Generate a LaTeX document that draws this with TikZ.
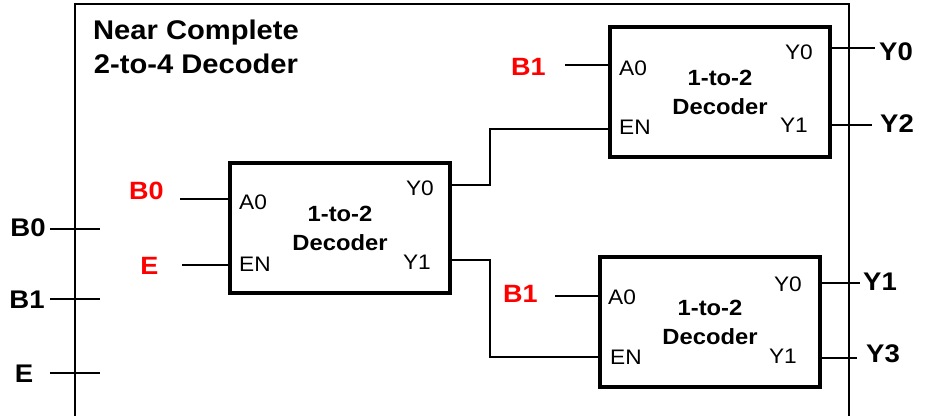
\documentclass[tikz,border=0pt]{standalone}
\usepackage{fontspec}
\setmainfont{Liberation Sans}[FakeStretch=1.08]
\usetikzlibrary{positioning,calc}

\begin{document}
\begin{tikzpicture}[x=1pt,y=-1pt,
  decbox/.style={draw, line width=4pt, minimum width=220pt, minimum height=130pt,
                 align=center, font=\fontsize{22}{29}\selectfont\bfseries},
  wire/.style={line width=2.5pt},
  pinlbl/.style={inner sep=0pt, font=\fontsize{21}{24}\selectfont},
  inlbl/.style={inner sep=0pt, text=red, font=\fontsize{25}{28}\selectfont\bfseries},
  iolbl/.style={inner sep=0pt, font=\fontsize{25.5}{30}\selectfont\bfseries}]
  \useasboundingbox (0,0) rectangle (929,416);

  % outer frame of the 2-to-4 decoder
  \draw[line width=2pt] (75,416) |- (849,4) -- (849,416);
  \node[align=center, inner sep=0pt, font=\fontsize{27}{34}\selectfont\bfseries] (title) at (196,47)
    {Near Complete\\2-to-4 Decoder};

  % the three 1-to-2 decoders
  \node[decbox] (dec1) at (340,228) {1-to-2\\Decoder};
  \node[decbox] (dec2) at (720,92) {1-to-2\\Decoder};
  \node[decbox] (dec3) at (710,322) {1-to-2\\Decoder};

  \node[pinlbl, anchor=west] (d1a0) at (239,202) {A0};
  \node[pinlbl, anchor=west] (d1en) at (239,264) {EN};
  \node[pinlbl, anchor=east] (d1q0) at (434,188) {Y0};
  \node[pinlbl, anchor=east] (d1q1) at (431,262) {Y1};
  \node[pinlbl, anchor=west] (d2a0) at (619,68) {A0};
  \node[pinlbl, anchor=west] (d2en) at (619,127) {EN};
  \node[pinlbl, anchor=east] (d2q0) at (813,52) {Y0};
  \node[pinlbl, anchor=east] (d2q1) at (808,125) {Y1};
  \node[pinlbl, anchor=west] (d3a0) at (608,297) {A0};
  \node[pinlbl, anchor=west] (d3en) at (610,357) {EN};
  \node[pinlbl, anchor=east] (d3q0) at (802,284) {Y0};
  \node[pinlbl, anchor=east] (d3q1) at (797,356) {Y1};

  % inputs of the frame
  \node[iolbl] (lb0) at (28,228) {B0};
  \node[iolbl] (lb1) at (27,300) {B1};
  \node[iolbl] (le) at (24,374) {E};
  \coordinate (tb0a) at (50,229); \coordinate (tb0b) at (100,229);
  \coordinate (tb1a) at (50,299); \coordinate (tb1b) at (100,299);
  \coordinate (tea) at (50,373);  \coordinate (teb) at (100,373);
  \draw[wire] (tb0a) -- (tb0b);
  \draw[wire] (tb1a) -- (tb1b);
  \draw[wire] (tea) -- (teb);

  % decoder inputs
  \node[inlbl] (rb0) at (146.5,191) {B0};
  \node[inlbl] (re) at (149.5,266) {E};
  \node[inlbl] (rb1a) at (528.5,67) {B1};
  \node[inlbl] (rb1b) at (520.5,294) {B1};
  \coordinate (w1) at (180,199);
  \coordinate (w2) at (182,265);
  \coordinate (w3) at (565,65);
  \coordinate (w4) at (555,296);
  \draw[wire] (w1) -- (dec1.west |- w1);
  \draw[wire] (w2) -- (dec1.west |- w2);
  \draw[wire] (w3) -- (dec2.west |- w3);
  \draw[wire] (w4) -- (dec3.west |- w4);

  % first decoder drives the enables
  \coordinate (j1) at (490,185);
  \coordinate (j2) at (490,260);
  \coordinate (en2) at (610,129);
  \coordinate (en3) at (600,357);
  \draw[wire] (dec1.east |- j1) -- (j1) |- (en2);
  \draw[wire] (dec1.east |- j2) -- (j2) |- (en3);

  % outputs
  \node[iolbl, anchor=west] (y0) at (879,52) {Y0};
  \node[iolbl, anchor=west] (y2) at (880,124) {Y2};
  \node[iolbl, anchor=west] (y1) at (863,282) {Y1};
  \node[iolbl, anchor=west] (y3) at (866,354) {Y3};
  \coordinate (o0) at (875,48);
  \coordinate (o2) at (872,125);
  \coordinate (o1) at (860,283);
  \coordinate (o3) at (857,358);
  \draw[wire] (dec2.east |- o0) -- (o0);
  \draw[wire] (dec2.east |- o2) -- (o2);
  \draw[wire] (dec3.east |- o1) -- (o1);
  \draw[wire] (dec3.east |- o3) -- (o3);
\end{tikzpicture}
\end{document}
